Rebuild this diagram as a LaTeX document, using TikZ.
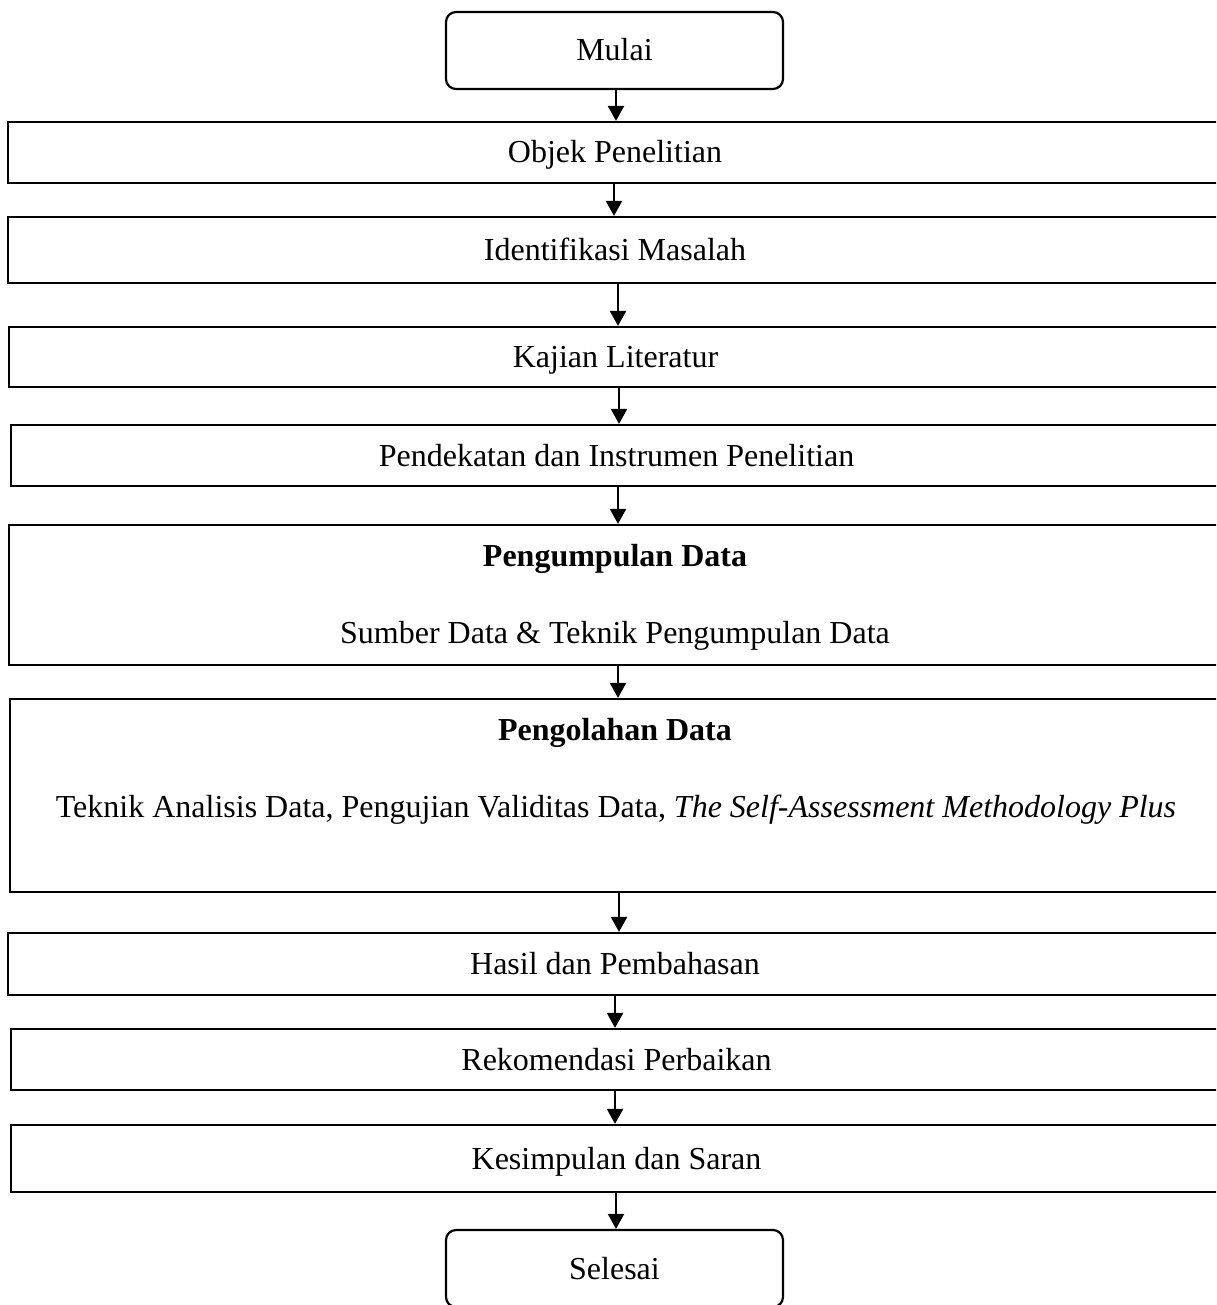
\documentclass[tikz,border=0pt]{standalone}
\usepackage{fontspec}
\setmainfont{Liberation Serif}
\usetikzlibrary{arrows.meta}
\begin{document}
\begin{tikzpicture}[x=0.5pt,y=-0.5pt,
  every node/.style={font=\fontsize{16}{19}\selectfont},
  stepbox/.style={draw,line width=1.1pt,rectangle,inner sep=0pt,
    text height=12pt,text depth=1.5pt},
  termbox/.style={stepbox,rounded corners=5pt,minimum width=168.5pt,minimum height=38.5pt},
  lbl/.style={inner sep=0pt,anchor=base},
  arr/.style={line width=1.1pt,-{Triangle[width=8pt,length=7.5pt]}}]
\clip (0,0) rectangle (1216,1305);
\fill[white] (0,0) rectangle (1216,1305);

% terminals
\node[termbox] (mulai) at (614.5,50.5) {Mulai};
\node[termbox] (selesai) at (614.5,1268.5) {Selesai};

% process steps
\node[stepbox,minimum width=607pt,minimum height=30.5pt] (objek) at (615,152.5) {Objek Penelitian};
\node[stepbox,minimum width=607pt,minimum height=33pt] (ident) at (615,250) {Identifikasi Masalah};
\node[stepbox,minimum width=606.5pt,minimum height=30pt] (kajian) at (615.5,357) {Kajian Literatur};
\node[stepbox,minimum width=605.5pt,minimum height=30.5pt] (pend) at (616.5,455.5) {Pendekatan dan Instrumen Penelitian};
\node[stepbox,minimum width=606.5pt,minimum height=70pt] (kumpul) at (615.5,595) {};
\node[stepbox,minimum width=606pt,minimum height=96.5pt] (olah) at (616,795.5) {};
\node[stepbox,minimum width=607pt,minimum height=31pt] (hasil) at (615,964) {Hasil dan Pembahasan};
\node[stepbox,minimum width=605.5pt,minimum height=30.5pt] (rekom) at (616.5,1059.5) {Rekomendasi Perbaikan};
\node[stepbox,minimum width=605.5pt,minimum height=33.5pt] (simpul) at (616.5,1158.5) {Kesimpulan dan Saran};

% two-part labels
\node[lbl] (kumpulA) at (615,566) {\textbf{Pengumpulan Data}};
\node[lbl] (kumpulB) at (615,643) {Sumber Data \& Teknik Pengumpulan Data};
\node[lbl] (olahA) at (615,740) {\textbf{Pengolahan Data}};
\node[lbl] (olahB) at (616,817) {Teknik Analisis Data, Pengujian Validitas Data, \textit{The Self-Assessment Methodology Plus}};

% flow
\draw[arr] ([xshift=0.75pt]mulai.south) -- ([xshift=0.75pt]mulai.south |- objek.north);
\draw[arr] ([xshift=-0.5pt]objek.south) -- ([xshift=-0.5pt]objek.south |- ident.north);
\draw[arr] ([xshift=1.5pt]ident.south) -- ([xshift=1.5pt]ident.south |- kajian.north);
\draw[arr] ([xshift=1.75pt]kajian.south) -- ([xshift=1.75pt]kajian.south |- pend.north);
\draw[arr] ([xshift=0.75pt]pend.south) -- ([xshift=0.75pt]pend.south |- kumpul.north);
\draw[arr] ([xshift=1.25pt]kumpul.south) -- ([xshift=1.25pt]kumpul.south |- olah.north);
\draw[arr] ([xshift=1.5pt]olah.south) -- ([xshift=1.5pt]olah.south |- hasil.north);
\draw[arr] ([xshift=0pt]hasil.south) -- ([xshift=0pt]hasil.south |- rekom.north);
\draw[arr] ([xshift=-0.75pt]rekom.south) -- ([xshift=-0.75pt]rekom.south |- simpul.north);
\draw[arr] ([xshift=-0.25pt]simpul.south) -- ([xshift=-0.25pt]simpul.south |- selesai.north);
\end{tikzpicture}
\end{document}
